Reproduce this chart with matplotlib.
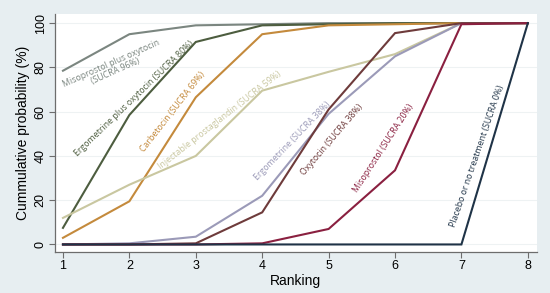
import matplotlib
matplotlib.use("Agg")
import matplotlib.pyplot as plt

# ---- data (cumulative ranking probabilities, %) ----
ranks = [1, 2, 3, 4, 5, 6, 7, 8]
miso_oxy = [78.5, 95, 99, 99.5, 100, 100, 100, 100]
ergo_oxy = [7.5, 58.5, 91.5, 99, 99.5, 100, 100, 100]
carbetocin = [3, 19.5, 66.5, 95, 99, 99.5, 100, 100]
injectable = [12, 27, 40, 69.5, 78, 86, 100, 100]
ergometrine = [0, 0.5, 3.5, 22, 59, 85, 100, 100]
oxytocin = [0, 0, 0.5, 14.5, 61, 95.5, 100, 100]
misoprostol = [0, 0, 0, 0.5, 7, 33.5, 99.5, 100]
placebo = [0, 0, 0, 0, 0, 0, 0, 100]

labels = ["Misoprostol plus oxytocin\n(SUCRA 96%)",
          "Ergometrine plus oxytocin (SUCRA 80%)",
          "Carbetocin (SUCRA 69%)",
          "Injectable prostaglandin (SUCRA 59%)",
          "Ergometrine (SUCRA 38%)",
          "Oxytocin (SUCRA 38%)",
          "Misoprostol (SUCRA 20%)",
          "Placebo or no treatment (SUCRA 0%)"]

colors = ["#7b8680", "#4d5d3f", "#c48a3c", "#c9c7a0",
          "#9b9ab8", "#6e3b3b", "#8a2040", "#1f3347"]

# label placement (data coords) and angle
label_pos = [(1.76, 80, 24), (2.07, 66, 44), (2.66, 60, 52), (3.36, 56, 38),
             (4.46, 47, 46), (5.05, 47.5, 49.5), (5.82, 43.5, 57), (7.23, 40, 71)]

series = [miso_oxy, ergo_oxy, carbetocin, injectable,
          ergometrine, oxytocin, misoprostol, placebo]

bg = "#e7eef1"
fig = plt.figure(figsize=(5.5, 2.93), dpi=100, facecolor=bg)
ax = fig.add_axes([0.1, 0.14, 0.876, 0.812])
ax.set_facecolor("white")

for ys, c in zip(series, colors):
    ax.plot(ranks, ys, color=c, lw=1.5, solid_joinstyle="miter", zorder=3)

for (x, y, rot), txt, c in zip(label_pos, labels, colors):
    ax.text(x, y, txt, color=c, rotation=rot, rotation_mode="anchor",
            ha="center", va="center", fontsize=6.3, family="Open Sans",
            linespacing=1.0, zorder=4)

ax.set_xlim(0.88, 8.135)
ax.set_ylim(-3.4, 104.1)
ax.set_xticks(ranks)
ax.set_yticks([0, 20, 40, 60, 80, 100])
ax.grid(axis="y", color="#eef2f3", lw=0.8, zorder=0)
for s in ["top", "right"]:
    ax.spines[s].set_visible(False)
for s in ["left", "bottom"]:
    ax.spines[s].set_color("#6d6d6d")
    ax.spines[s].set_linewidth(0.9)
ax.tick_params(direction="out", length=4, width=0.8, color="#6d6d6d",
               labelsize=9, pad=2)
for lab in ax.get_yticklabels():
    lab.set_rotation(90)
    lab.set_va("center")
for lab in ax.get_xticklabels() + ax.get_yticklabels():
    lab.set_family("Liberation Sans")

ax.set_xlabel("Ranking", fontsize=10, family="Liberation Sans", labelpad=1)
ax.set_ylabel("Cummulative probability (%)", fontsize=10,
              family="Liberation Sans", labelpad=3)

fig.savefig("out.png", dpi=100, facecolor=bg)
